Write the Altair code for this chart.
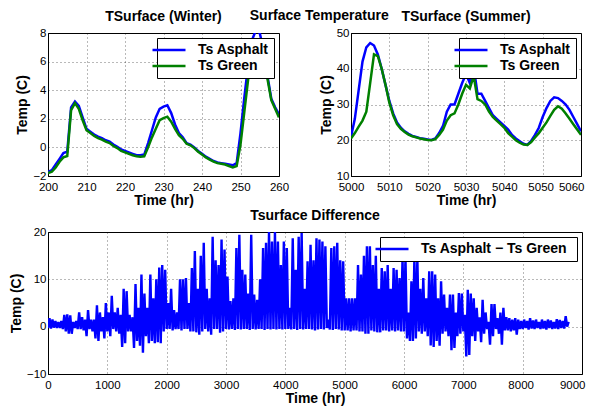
import altair as alt
import pandas as pd

BLUE = "#0000ff"
GREEN = "#008000"
FONT = "Liberation Sans"

# ---------------- Winter panel ----------------
winter_hours = list(range(200, 261))
winter_asphalt = [-1.7, -1.6, -1.2, -0.8, -0.4, -0.3, 2.8, 3.2, 2.9, 2.1,
                  1.3, 1.1, 0.9, 0.75, 0.65, 0.5, 0.4, 0.2, 0.05, -0.15,
                  -0.25, -0.35, -0.45, -0.55, -0.55, -0.5, 0.3, 1.2, 2.1, 2.7,
                  2.85, 2.95, 2.4, 1.6, 1.0, 0.7, 0.3, 0.2, 0.0, -0.25,
                  -0.45, -0.65, -0.8, -0.95, -1.05, -1.1, -1.15, -1.2, -1.25, -1.1,
                  1.0, 3.5, 5.8, 7.5, 8.2, 8.0, 6.8, 5.0, 3.4, 2.8,
                  2.3]
winter_green = [-1.8, -1.7, -1.4, -1.0, -0.7, -0.6, 2.6, 3.1, 2.7, 1.9,
                1.2, 1.0, 0.8, 0.65, 0.55, 0.4, 0.3, 0.1, -0.05, -0.25,
                -0.35, -0.45, -0.55, -0.62, -0.65, -0.62, 0.0, 0.7, 1.3, 1.9,
                2.05, 2.15, 1.8, 1.3, 0.85, 0.6, 0.25, 0.15, -0.05, -0.3,
                -0.5, -0.7, -0.85, -1.0, -1.1, -1.15, -1.2, -1.3, -1.4, -1.3,
                0.2, 2.5, 4.8, 6.5, 7.3, 7.3, 6.3, 4.8, 3.3, 2.7,
                2.1]

# ---------------- Summer panel ----------------
summer_hours = list(range(5000, 5061))
summer_asphalt = [21, 26, 34, 42, 46, 47.2, 46.5, 44, 40, 35.5,
                  31, 27.5, 25, 23.5, 22.5, 21.8, 21.2, 20.9, 20.6, 20.4,
                  20.2, 20.1, 20.5, 22, 24, 28, 30, 30, 33, 36,
                  38.5, 36, 40.5, 33, 33, 31, 29, 27, 26, 25,
                  24, 23, 21.5, 20.5, 19.7, 19, 18.7, 19.8, 21.5, 23.5,
                  26.5, 29, 31, 32, 31.8, 31, 30, 28.5, 26.5, 24.5,
                  22.5]
summer_green = [20.5, 22, 23.8, 25.5, 28, 36, 44, 43.5, 40, 35.5,
                30.5, 27, 24.5, 23.2, 22.3, 21.6, 21.1, 20.8, 20.5, 20.3,
                20.1, 20, 20.3, 21.5, 23, 25.5, 27, 27.5, 30, 33,
                35.5, 34.5, 38, 31.5, 31, 30, 28, 26.5, 25.5, 24.5,
                23.5, 22, 21, 20, 19.3, 18.8, 18.7, 19.5, 20.8, 22,
                23.5, 25, 26.8, 28.5, 29.5, 28.8, 27.5, 26, 24.5, 23,
                21.5]

# ---------------- Difference panel (50-hour blocks: max / min) ----------------
diff_block_start = list(range(0, 8751, 50))
diff_max = [1.8, 1.5, 1.2, 1.0, 1.2, 2.5, 2.6, 2.4, 1.0, 1.2, 3.0, 2.0, 1.5, 3.5, 1.5, 1.5, 4.5, 3.0, 2.0, 5.0,
            3.0, 6.5, 3.0, 4.0, 2.5, 8.0, 7.5, 2.5, 2.0, 9.0, 4.0, 11.0, 7.0, 4.0, 11.0, 6.0, 10.0, 12.5, 13.0, 12.0,
            5.0, 8.0, 3.5, 3.0, 10.0, 10.0, 10.3, 5.0, 12.4, 16.0, 8.0, 15.0, 17.7, 8.0, 6.0, 19.0, 14.0, 13.0, 18.4, 16.3,
            10.6, 5.4, 6.0, 16.6, 19.4, 12.0, 11.0, 7.0, 19.4, 6.8, 5.7, 10.0, 16.6, 17.7, 20.0, 18.0, 20.0, 18.0, 13.0, 18.0,
            16.6, 4.0, 18.7, 12.0, 19.0, 19.8, 8.0, 13.8, 17.3, 14.0, 18.7, 18.4, 18.0, 17.0, 1.5, 16.6, 17.0, 17.7, 14.0, 13.8,
            6.0, 6.0, 6.0, 6.0, 13.0, 11.0, 15.0, 17.0, 17.0, 13.0, 15.0, 8.0, 12.4, 11.7, 13.0, 8.0, 12.4, 12.0, 10.3, 14.5,
            14.5, 3.0, 9.6, 14.5, 14.5, 8.0, 10.3, 6.0, 11.7, 11.7, 11.0, 6.0, 9.6, 6.8, 4.0, 6.8, 6.8, 3.0, 7.1, 7.0,
            2.5, 7.8, 7.0, 6.0, 4.0, 2.0, 5.7, 3.0, 1.0, 4.8, 4.8, 1.8, 3.0, 4.0, 2.0, 1.8, 1.5, 1.8, 1.5, 1.2,
            1.5, 1.2, 1.8, 1.3, 1.5, 1.0, 1.5, 1.2, 1.5, 1.3, 1.0, 1.6, 1.4, 1.2, 2.2, 1.0]
diff_min = [-0.3, -0.4, -0.2, -0.3, -0.3, -0.5, -1.0, -1.5, -1.5, -0.3, -0.5, -0.5, -0.8, -2.0, -0.5, -1.0, -2.5, -3.0, -1.0, -2.5,
            -1.0, -2.0, -0.5, -1.0, -1.5, -4.3, -3.5, -1.0, -1.0, -4.5, -3.0, -4.0, -5.5, -2.0, -3.5, -3.0, -3.5, -3.3, -3.5, -1.0,
            -0.5, -0.5, -0.8, -0.5, -0.5, -0.8, -0.5, -0.5, -1.0, -1.0, -1.2, -1.7, -1.0, -0.5, -1.0, -1.7, -0.5, -0.5, -1.3, -1.0,
            -0.5, -0.6, -0.5, -0.7, -0.5, -0.6, -0.5, -0.5, -0.7, -0.5, -0.6, -0.5, -0.5, -0.7, -0.5, -0.6, -0.5, -0.6, -0.5, -0.6,
            -0.5, -0.5, -0.6, -0.5, -0.7, -0.5, -0.6, -0.5, -0.5, -0.6, -0.8, -0.6, -0.5, -0.6, -0.3, -0.6, -0.7, -0.5, -0.6, -0.8,
            -0.8, -0.8, -1.0, -0.8, -0.8, -1.0, -1.0, -1.5, -1.5, -0.8, -1.0, -1.2, -1.2, -0.8, -0.8, -1.0, -0.8, -1.0, -0.8, -1.0,
            -1.0, -2.5, -3.0, -3.0, -2.5, -1.0, -1.5, -1.0, -2.0, -4.0, -4.3, -3.0, -4.0, -1.5, -1.0, -2.0, -5.0, -4.5, -2.0, -1.5,
            -1.0, -6.3, -6.0, -2.0, -3.0, -1.0, -3.3, -1.5, -0.5, -3.8, -2.0, -0.5, -1.5, -3.8, -0.8, -0.8, -1.0, -0.8, -1.7, -0.5,
            -0.5, -0.3, -0.6, -0.4, -0.5, -0.3, -0.5, -0.4, -0.6, -0.3, -0.5, -0.4, -0.5, -0.3, -0.4, 0.0]

series_names = ["Ts Asphalt", "Ts Green"]
diff_name = "Ts Asphalt \u2212  Ts Green"

winter_ticks_x = [200, 210, 220, 230, 240, 250, 260]
winter_ticks_y = [-2, 0, 2, 4, 6, 8]
summer_ticks_x = [5000, 5010, 5020, 5030, 5040, 5050, 5060]
summer_ticks_y = [10, 20, 30, 40, 50]
diff_ticks_x = list(range(0, 9001, 1000))
diff_ticks_y = [-10, 0, 10, 20]

# ---------------- tables ----------------
winter_df = pd.concat([
    pd.DataFrame({"hour": winter_hours, "temp": winter_asphalt, "series": series_names[0]}),
    pd.DataFrame({"hour": winter_hours, "temp": winter_green, "series": series_names[1]}),
])
summer_df = pd.concat([
    pd.DataFrame({"hour": summer_hours, "temp": summer_asphalt, "series": series_names[0]}),
    pd.DataFrame({"hour": summer_hours, "temp": summer_green, "series": series_names[1]}),
])
rows = []
for h, mx, mn in zip(diff_block_start, diff_max, diff_min):
    rows.append({"hour": h, "temp": mn, "series": diff_name})
    rows.append({"hour": h + 25, "temp": mx, "series": diff_name})
diff_df = pd.DataFrame(rows)

LINE_SYMBOL = "M-3,0H3"


def legend():
    return alt.Legend(title=None, orient="top-right", offset=5, strokeColor="black",
                      fillColor="white", padding=5, symbolType=LINE_SYMBOL, symbolSize=121,
                      symbolStrokeWidth=2.5, labelFont=FONT, labelFontSize=14,
                      labelFontWeight="bold", labelColor="black", rowPadding=2,
                      labelOffset=22, cornerRadius=0, labelLimit=300)


def axis(vals, title, last=None, prev=None, **kw):
    extra = {}
    if last is not None:
        extra["labelAlign"] = alt.expr(f"datum.value == {last} ? 'right' : 'center'")
        extra["labelOffset"] = alt.expr(
            f"datum.value == {last} ? 3 : (datum.value == {prev} ? -2 : 0)")
    return alt.Axis(values=vals, title=title, format="d", grid=True, gridColor="black",
                    gridDash=[1, 3], gridOpacity=0.55, domainColor="black", ticks=False,
                    labelFont=FONT, labelFontSize=11.5, labelColor="black",
                    titleFont=FONT, titleFontSize=14, titleFontWeight="bold",
                    titleColor="black", labelFlush=False, labelOverlap=False, **extra, **kw)


def panel(df, title, xdom, ydom, xt, yt, w, names, colors, sw, last=None, prev=None):
    return alt.Chart(df, title=alt.TitleParams(title, font=FONT, fontSize=14, fontWeight="bold",
                                               offset=3, color="black")).mark_line(
        strokeWidth=sw, clip=True).encode(
        x=alt.X("hour:Q", scale=alt.Scale(domain=xdom, nice=False, zero=False),
                axis=axis(xt, "Time (hr)", last=last, prev=prev, titlePadding=1, labelPadding=5)),
        y=alt.Y("temp:Q", scale=alt.Scale(domain=ydom, nice=False, zero=False),
                axis=axis(yt, "Temp (C)", titlePadding=3, labelPadding=2)),
        color=alt.Color("series:N", scale=alt.Scale(domain=names, range=colors), legend=legend()),
    ).properties(width=w, height=143)


winter = panel(winter_df, "TSurface (Winter)", [200, 260], [-2, 8], winter_ticks_x, winter_ticks_y,
               231, series_names, [BLUE, GREEN], 2.5)
summer = panel(summer_df, "TSurface (Summer)", [5000, 5060], [10, 50], summer_ticks_x, summer_ticks_y,
               230, series_names, [BLUE, GREEN], 2.5, last=5060, prev=5050)
bottom = panel(diff_df, "Tsurface Difference", [0, 9000], [-10, 20], diff_ticks_x, diff_ticks_y,
               534, [diff_name], [BLUE], 2.4, last=9000, prev=8000).properties(height=142)

top = alt.hconcat(winter, summer, spacing=28).resolve_scale(
    color="independent").resolve_legend(color="independent")

chart = alt.vconcat(top, bottom, spacing=0,
                    title=alt.TitleParams("Surface Temperature", font=FONT, fontSize=14,
                                          fontWeight="bold", anchor="middle", offset=-13,
                                          dx=22, color="black")).resolve_scale(
    color="independent").resolve_legend(color="independent").properties(
    padding={"left": 0, "top": 0, "right": 0, "bottom": 2}
).configure_view(stroke="black", strokeWidth=1)

chart.save("out.html", embed_options={"renderer": "svg", "actions": False})
